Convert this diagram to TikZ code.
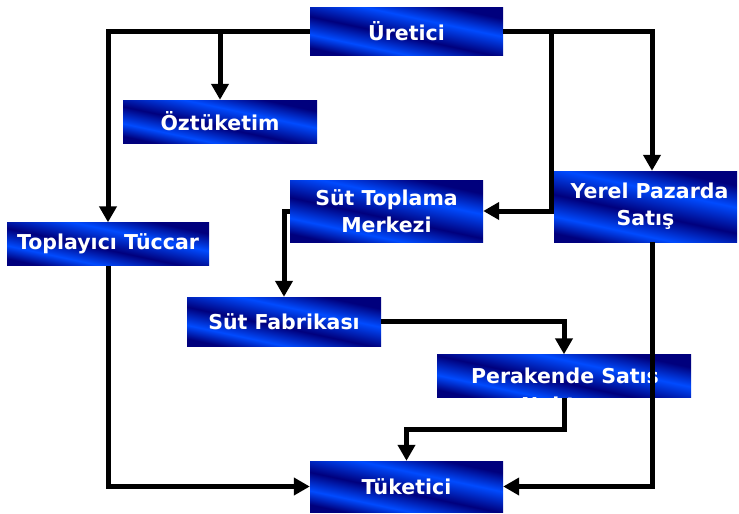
\documentclass[tikz,border=0pt]{standalone}
\usepackage{fontspec}
\setmainfont{DejaVu Sans}
\usepackage{tikz}
\usetikzlibrary{arrows.meta,calc}
\usepackage{xcolor}
\definecolor{navyblue}{RGB}{0,0,125}
\definecolor{brightblue}{RGB}{0,75,255}
\pgfdeclareverticalshading{bluestripes}{100bp}{color(0bp)=(navyblue); color(25bp)=(navyblue); color(34bp)=(brightblue); color(46bp)=(navyblue); color(60bp)=(brightblue); color(72bp)=(navyblue); color(100bp)=(navyblue)}

\begin{document}
\begin{tikzpicture}[x=1pt, y=-1pt, box/.style={rectangle, inner sep=0pt, shade, shading=bluestripes, shading angle=-12, text=white, font=\fontsize{20.5}{27}\selectfont\bfseries, align=center}, link/.style={line width=5pt, -{Triangle[length=16pt,width=17pt]}}, label node/.style={text=white, font=\fontsize{20.5}{27}\selectfont\bfseries, inner sep=0pt, anchor=base}]
\useasboundingbox (0,0) rectangle (739,514);
\node[box, minimum width=193pt, minimum height=48pt] (ure) at (406.5,31) {Üretici};
\node[box, minimum width=194pt, minimum height=43pt] (ozt) at (220,121.5) {Öztüketim};
\node[box, minimum width=202pt, minimum height=43pt] (top) at (108,244) {Toplayıcı Tüccar};
\node[box, minimum width=193pt, minimum height=62pt] (stm) at (386.5,211) {Süt Toplama\\Merkezi};
\node[box, minimum width=183pt, minimum height=71pt] (yps) at (645.5,206.5) {\hspace*{8pt}Yerel Pazarda\\Satış};
\node[box, minimum width=194pt, minimum height=49pt] (fab) at (284,321.5) {Süt Fabrikası};
\node[box, minimum width=254pt, minimum height=43pt] (per) at (564,376) {};
\begin{scope}
\clip (per.south west) rectangle (per.north east);
\node[label node] (per1) at (565,383) {Perakende Satış};
\node[label node] (per2) at (565,412) {Noktası};
\end{scope}
\node[box, minimum width=193pt, minimum height=51pt] (tuk) at (406.5,486.5) {Tüketici};
\coordinate (lbr) at (551,0);
\coordinate (rbr) at (652,0);
\draw[link] (ure.west) -| (top.north);
\draw[link] (ozt.north |- ure.west) -- (ozt.north);
\draw[link] (ure.east) -| (rbr |- yps.north);
\draw[link] (lbr |- ure.east) |- (stm.east);
\draw[link] (stm.west) -| (fab.north);
\draw[link] (fab.east) -| (per.north);
\draw[link] (per.south) -- ++(0,32) -| (tuk.north);
\draw[link] (top.south) |- (tuk.west);
\draw[link] (rbr |- yps.south) |- (tuk.east);
\end{tikzpicture}
\end{document}
